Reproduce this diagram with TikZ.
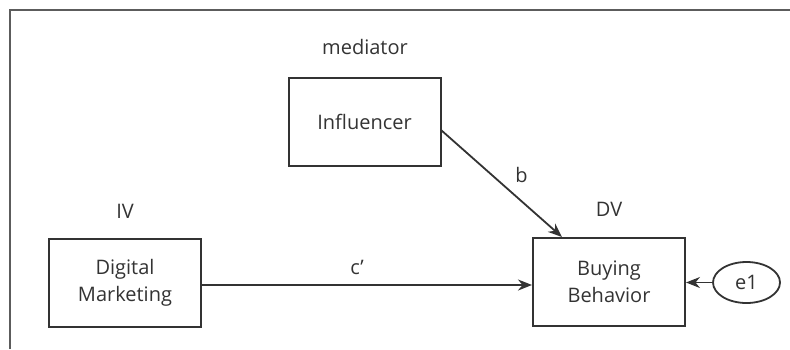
\documentclass[tikz,border=0pt]{standalone}
\usepackage{fontspec}
\setmainfont{Open Sans}
\usetikzlibrary{arrows.meta,shapes.geometric}
\definecolor{ink}{HTML}{333333}
\tikzset{
  txt/.style={text=ink, font=\fontsize{20}{27}\selectfont},
  box/.style={draw=ink, line width=2pt, minimum width=152pt, minimum height=88pt, align=center, inner sep=0pt, txt},
  lbl/.style={inner sep=0pt, txt},
  conn/.style={draw=ink, line width=1.8pt, -{Stealth[length=14pt,width=11pt]}},
}
\begin{document}
\begin{tikzpicture}[x=1pt,y=-1pt]
\useasboundingbox (0,0) rectangle (790,349);
\draw[ink!80, line width=2.2pt] (10,349) -- (10,10) -- (790,10);
\node[box] (inf) at (364.5,121.5) {Influencer};
\node[box] (dm) at (125,282.5) {Digital\\Marketing};
\node[box] (bb) at (609,282) {Buying\\Behavior};
\node[draw=ink, line width=1.8pt, ellipse, minimum width=67pt, minimum height=41pt, inner sep=0pt, txt] (e1) at (746.5,282.5) {e1};
\node[lbl] (med) at (365,47) {mediator};
\node[lbl] (iv) at (125,211) {IV};
\node[lbl] (dv) at (609,209) {DV};
\coordinate (bstart) at (441,130);
\coordinate (bend) at (562,237);
\draw[conn] (bstart) -- node[lbl, pos=0.5, xshift=20pt, yshift=9pt] (blab) {b} (bend);
\draw[conn] (dm.east |- 0,285) -- node[lbl, xshift=-10pt, yshift=18pt] (cp) {c’} (bb.west |- 0,285);
\draw[conn] (e1.west) -- (bb.east |- e1.west);
\end{tikzpicture}
\end{document}
